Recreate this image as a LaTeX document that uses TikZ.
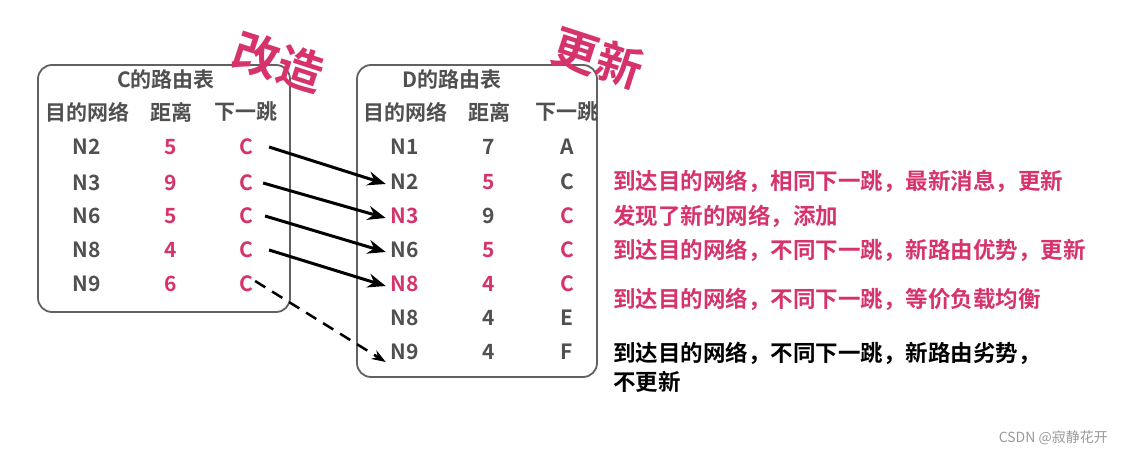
\documentclass[tikz,border=0pt]{standalone}
\usepackage{fontspec}
\setmainfont{Noto Sans CJK SC}[BoldFont={* Bold}]
\usetikzlibrary{arrows.meta}
\definecolor{pk}{HTML}{D6336C}
\definecolor{gt}{HTML}{505050}
\tikzset{
 t/.style={font=\fontsize{21}{22}\selectfont\bfseries, text=gt, inner sep=0pt},
 p/.style={t, text=pk},
 note/.style={font=\fontsize{22.5}{24}\selectfont\bfseries, text=pk, anchor=west, inner sep=0pt},
 box/.style={draw=gt!90, line width=1.8pt, rounded corners=14pt},
 big/.style={font=\fontsize{46}{48}\selectfont\bfseries, text=pk, rotate=-18, inner sep=0pt},
 arr/.style={line width=3pt, -{Stealth[length=18pt,width=14pt]}},
}
\begin{document}
\begin{tikzpicture}[x=1pt,y=-1pt]
\useasboundingbox (0,0) rectangle (1121,457);
\draw[box] (38,65) rectangle (290,312);
\draw[box] (357,65) rectangle (597,377);
\node[big] (g1) at (279,62) {改造};
\node[big] (g2) at (598,58) {更新};
% C table
\node[t] (ct) at (166,80) {C的路由表};
\foreach \x/\s [count=\i] in {87/目的网络,171/距离,246/下一跳}{\node[t] (ch\i) at (\x,112) {\s};}
\foreach \n/\d/\y [count=\i] in {N2/5/147,N3/9/183,N6/5/216,N8/4/250,N9/6/284}{
 \node[t] (cn\i) at (87,\y) {\n};
 \node[p] (cd\i) at (171,\y) {\d};
 \node[p] (cc\i) at (246,\y) {C};}
% D table
\node[t] (dt) at (452,80) {D的路由表};
\foreach \x/\s [count=\i] in {405/目的网络,489/距离,567/下一跳}{\node[t] (dh\i) at (\x,112) {\s};}
\node[t] (dn1) at (405,147) {N1}; \node[t] (dd1) at (489,147) {7}; \node[t] (dc1) at (567,147) {A};
\node[t] (dn2) at (405,182) {N2}; \node[p] (dd2) at (489,182) {5}; \node[t] (dc2) at (567,182) {C};
\node[p] (dn3) at (405,216) {N3}; \node[t] (dd3) at (489,216) {9}; \node[p] (dc3) at (567,216) {C};
\node[t] (dn4) at (405,250) {N6}; \node[p] (dd4) at (489,250) {5}; \node[p] (dc4) at (567,250) {C};
\node[p] (dn5) at (405,284) {N8}; \node[p] (dd5) at (489,284) {4}; \node[p] (dc5) at (567,284) {C};
\node[t] (dn6) at (405,318) {N8}; \node[t] (dd6) at (489,318) {4}; \node[t] (dc6) at (567,318) {E};
\node[t] (dn7) at (405,352) {N9}; \node[t] (dd7) at (489,352) {4}; \node[t] (dc7) at (567,352) {F};
% arrows
\draw[arr] ([xshift=16pt]cc1.east) -- ([xshift=-5pt,yshift=-2pt]dn2.west);
\draw[arr] ([xshift=10pt]cc2.east) -- ([xshift=-5pt,yshift=-2pt]dn3.west);
\draw[arr] ([xshift=12pt]cc3.east) -- ([xshift=-5pt,yshift=-2pt]dn4.west);
\draw[arr] ([xshift=16pt]cc4.east) -- ([xshift=-5pt,yshift=-2pt]dn5.west);
\draw[line width=2.5pt, dash pattern=on 12pt off 8pt, -{Stealth[length=14pt,width=10pt]}] ([xshift=2pt,yshift=3pt]cc5.east) -- ([xshift=-5pt,yshift=-10pt]dn7.west);
% notes
\node[note] (a1) at (613,181) {到达目的网络，相同下一跳，最新消息，更新};
\node[note] (a2) at (613,216) {发现了新的网络，添加};
\node[note] (a3) at (613,250) {到达目的网络，不同下一跳，新路由优势，更新};
\node[note] (a4) at (613,299) {到达目的网络，不同下一跳，等价负载均衡};
\node[note, text=black] (a5) at (613,353) {到达目的网络，不同下一跳，新路由劣势，};
\node[note, text=black] (a6) at (613,382) {不更新};
\node[font=\fontsize{14}{15}\selectfont, text=gray!80, anchor=east, inner sep=0pt] (wm) at (1108,438) {CSDN @寂静花开};
\end{tikzpicture}
\end{document}
